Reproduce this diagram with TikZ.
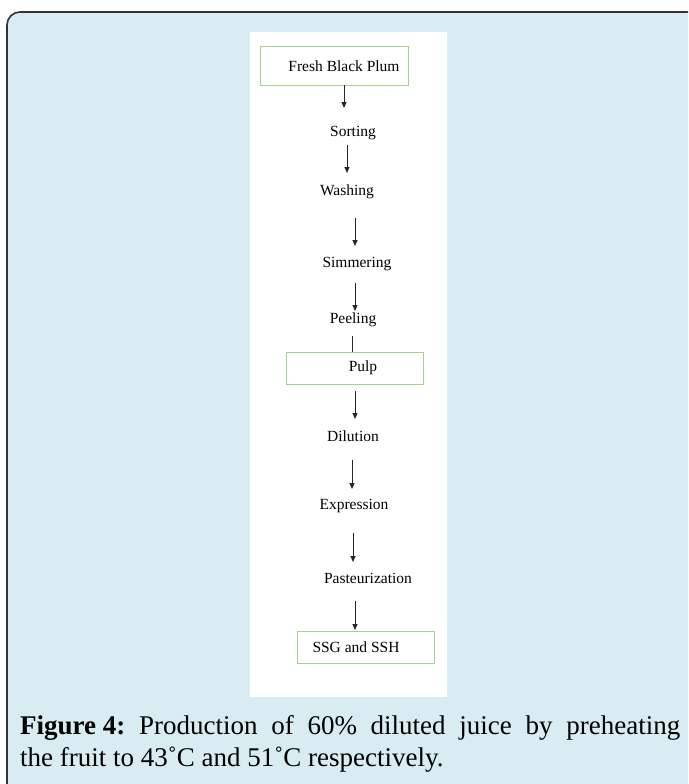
\documentclass[tikz,border=0pt]{standalone}
\usepackage{fontspec}
\setmainfont{Liberation Serif}
\newfontfamily\capfont{Liberation Serif}
\usetikzlibrary{arrows.meta}
\definecolor{bgblue}{HTML}{D8ECF1}
\definecolor{boxgreen}{HTML}{A9D18E}
\definecolor{frame}{HTML}{333333}
\tikzset{
  stepbox/.style={draw=boxgreen, line width=1pt, fill=white, minimum height=32pt, inner sep=0pt},
  steptext/.style={font=\fontsize{15.5}{17}\selectfont, inner sep=0pt, text=black},
  flow/.style={draw=black!85, line width=0.9pt, -{Triangle[length=6pt,width=5pt]}},
  plain/.style={draw=black!85, line width=0.9pt}
}
\begin{document}
\begin{tikzpicture}[x=1pt,y=-1pt]
\useasboundingbox (0,0) rectangle (688,784);
\begin{scope}
\clip (0,0) rectangle (688,784);
\draw[frame, line width=1.6pt, fill=bgblue, rounded corners=13pt] (7,12) rectangle (700,800);
\end{scope}
\fill[white] (250,32) rectangle (447,697);
% boxes
\node[stepbox, minimum width=148pt, minimum height=38pt] (b1) at (334,66) {};
\node[steptext] (t1) at (344,66) {Fresh Black Plum};
\node[steptext] (t2) at (353,133) {Sorting};
\node[steptext] (t3) at (347,192) {Washing};
\node[steptext] (t4) at (357,264) {Simmering};
\node[steptext] (t5) at (353,320) {Peeling};
\node[stepbox, minimum width=137pt] (b6) at (354.5,368) {};
\node[steptext] (t6) at (363,368) {Pulp};
\node[steptext] (t7) at (353,436) {Dilution};
\node[steptext] (t8) at (354,506) {Expression};
\node[steptext] (t9) at (368,578) {Pasteurization};
\node[stepbox, minimum width=137pt] (b10) at (365.5,647) {};
\node[steptext] (t10) at (356,647) {SSG and SSH};
% connectors
\coordinate (a1s) at (344,85); \coordinate (a1e) at (344,108);
\draw[flow] (a1s) -- (a1e);
\coordinate (a2s) at (347,145); \coordinate (a2e) at (347,173);
\draw[flow] (a2s) -- (a2e);
\coordinate (a3s) at (355,218); \coordinate (a3e) at (355,246);
\draw[flow] (a3s) -- (a3e);
\coordinate (a4s) at (355,283); \coordinate (a4e) at (355,311);
\draw[flow] (a4s) -- (a4e);
\coordinate (l5s) at (352,336);
\draw[plain] (l5s) -- (l5s |- b6.north);
\coordinate (a6s) at (355,391); \coordinate (a6e) at (355,419);
\draw[flow] (a6s) -- (a6e);
\coordinate (a7s) at (352,460); \coordinate (a7e) at (352,489);
\draw[flow] (a7s) -- (a7e);
\coordinate (a8s) at (353,533); \coordinate (a8e) at (353,562);
\draw[flow] (a8s) -- (a8e);
\coordinate (a9s) at (355,601); \coordinate (a9e) at (355,630);
\draw[flow] (a9s) -- (a9e);
% caption
\node[anchor=west, inner sep=0pt, font=\capfont\fontsize{27}{30}\selectfont] (cap1) at (20,728)
  {\hbox to 660pt{\textbf{Figure\ 4:}\hfil\ Production\hfil\ of\hfil\ 60\%\hfil\ diluted\hfil\ juice\hfil\ by\hfil\ preheating}};
\node[anchor=west, inner sep=0pt, font=\capfont\fontsize{27}{30}\selectfont] (cap2) at (20,760)
  {the fruit to 43˚C and 51˚C respectively.};
\end{tikzpicture}
\end{document}
